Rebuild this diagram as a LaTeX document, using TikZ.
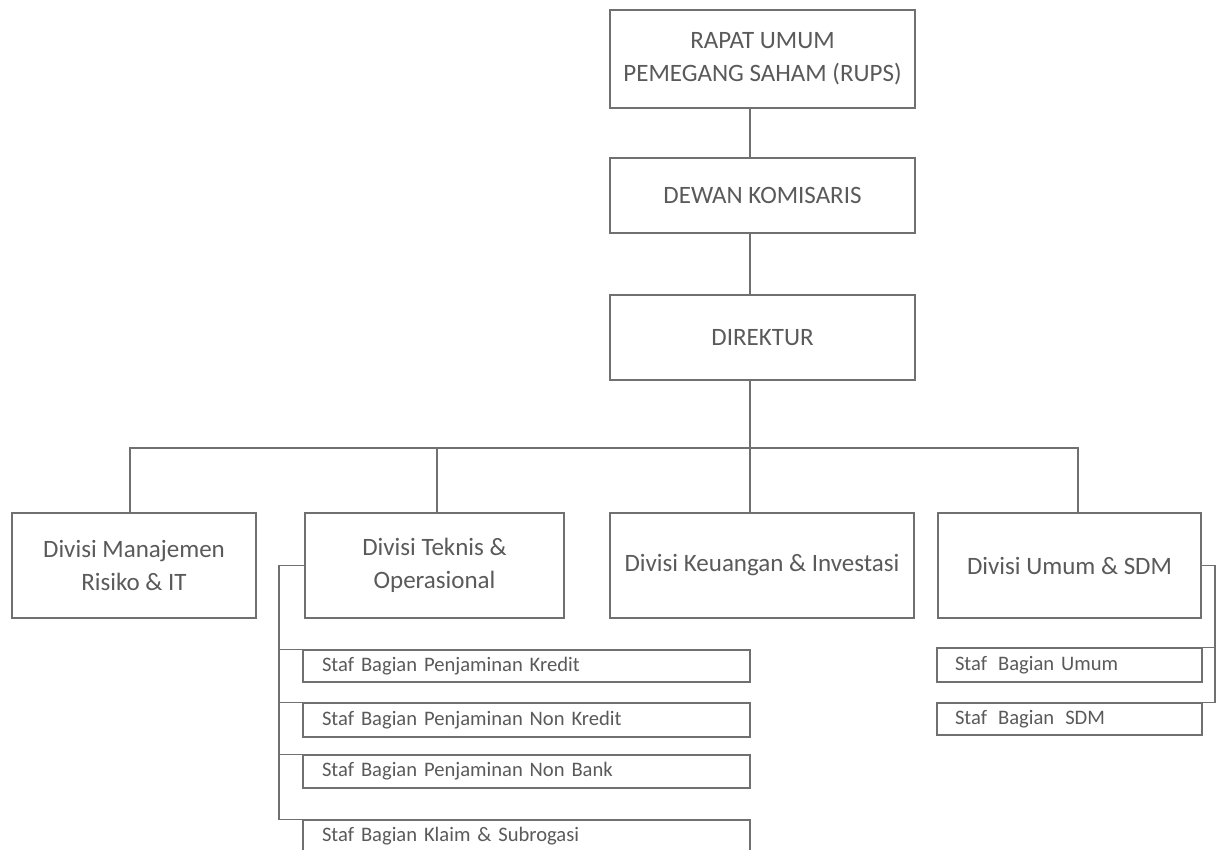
\documentclass[tikz,border=0pt]{standalone}
\usepackage{fontspec}
\setmainfont{Carlito}
\definecolor{linegray}{HTML}{707070}
\definecolor{textgray}{HTML}{5A5A5A}
\begin{document}
\begin{tikzpicture}[x=0.5pt,y=-0.5pt,
  box/.style={draw=linegray, line width=0.7pt, text=textgray, align=center, inner sep=0pt,
    font=\fontsize{12.5}{16.5}\selectfont},
  staffL/.style={draw=linegray, line width=0.7pt, text=textgray, align=left, inner ysep=0pt,
    inner xsep=9.5pt, text width=204.5pt, font=\fontsize{10.3}{12}\selectfont},
  staffR/.style={draw=linegray, line width=0.7pt, text=textgray, align=left, inner ysep=0pt,
    inner xsep=9pt, text width=114.5pt, font=\fontsize{10.3}{12}\selectfont},
  conn/.style={draw=linegray, line width=0.7pt}]
\useasboundingbox[fill=white] (0,0) rectangle (1220,850);

% top chain
\node[box, minimum width=152.5pt, minimum height=49pt] (rups) at (762.5,59) {RAPAT UMUM\\PEMEGANG SAHAM (RUPS)};
\node[box, minimum width=152.5pt, minimum height=37.5pt] (dewan) at (762.5,195.5) {DEWAN KOMISARIS};
\node[box, minimum width=152.5pt, minimum height=42.5pt] (dir) at (762.5,337.5) {DIREKTUR};

% divisions
\node[box, minimum width=122pt, minimum height=52.5pt] (div1) at (134,565.5) {Divisi Manajemen\\Risiko \& IT};
\node[box, minimum width=129.5pt, minimum height=52.5pt] (div2) at (434.5,565.5) {Divisi Teknis \&\\Operasional};
\node[box, minimum width=152pt, minimum height=52.5pt] (div3) at (762,565.5) {Divisi Keuangan \& Investasi};
\node[box, minimum width=131.5pt, minimum height=52.5pt] (div4) at (1069.5,565.5) {Divisi Umum \& SDM};

% staff left
\node[staffL, minimum height=16pt] (s1) at (526.5,666) {Staf Bagian Penjaminan Kredit};
\node[staffL, minimum height=17pt] (s2) at (526.5,720) {Staf Bagian Penjaminan Non Kredit};
\node[staffL, minimum height=16.5pt] (s3) at (526.5,771.5) {Staf Bagian Penjaminan Non Bank};
\node[staffL, minimum height=16pt] (s4) at (526.5,836) {Staf Bagian Klaim \& Subrogasi};

% staff right
\node[staffR, minimum height=17pt] (s5) at (1069.5,665) {Staf\hspace{0.2em} Bagian Umum};
\node[staffR, minimum height=16pt] (s6) at (1069.5,719) {Staf\hspace{0.2em} Bagian\hspace{0.2em} SDM};

% helper coordinates
\coordinate (cl) at (750,0);
\coordinate (bus) at (0,448);
\coordinate (x1) at (130,0);
\coordinate (x2) at (437,0);
\coordinate (x4) at (1078,0);
\coordinate (lv) at (279,0);
\coordinate (rv) at (1215,0);

% connectors
\draw[conn] (rups.south -| cl) -- (dewan.north -| cl);
\draw[conn] (dewan.south -| cl) -- (dir.north -| cl);
\draw[conn] (dir.south -| cl) -- (div3.north -| cl);
\draw[conn] (div1.north -| x1) -- (bus -| x1) -- (bus -| x4) -- (div4.north -| x4);
\draw[conn] (div2.north -| x2) -- (bus -| x2);

\draw[conn] (div2.west) -- (div2.west -| lv) -- (s4.north -| lv) -- (s4.north west);
\draw[conn] (s1.north -| lv) -- (s1.north west);
\draw[conn] (s2.north -| lv) -- (s2.north west);
\draw[conn] (s3.north -| lv) -- (s3.north west);

\draw[conn] (div4.east) -- (div4.east -| rv) -- (s6.north -| rv) -- (s6.north east);
\draw[conn] (s5.north -| rv) -- (s5.north east);
\end{tikzpicture}
\end{document}
